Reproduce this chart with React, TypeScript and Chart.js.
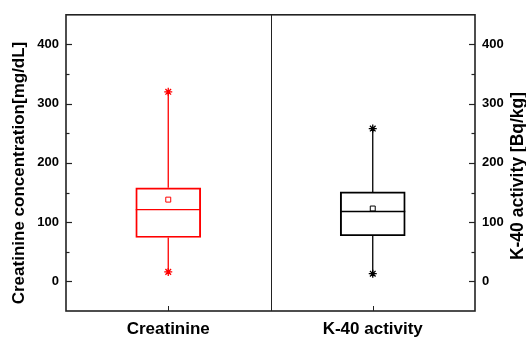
import React, { useEffect, useRef } from "react";
import { Chart, registerables } from "chart.js";

Chart.register(...registerables);

const categories = ["Creatinine", "K-40 activity"];
const positions = [1, 3];
const mins = [16, 13];
const q1s = [74, 77];
const medians = [121, 118];
const q3s = [158, 151];
const maxs = [320, 258];
const means = [138, 123];
const colors = ["#ff0000", "#000000"];
const yMajorTicks = [0, 100, 200, 300, 400];
const leftTitle = "Creatinine concentration[mg/dL]";
const rightTitle = "K-40 activity [Bq/kg]";

const FONT = "'Liberation Sans', Arial, sans-serif";

const boxPlugin = {
  id: "boxExtras",
  beforeDatasetsDraw(chart: any) {
    const ctx = chart.ctx;
    const x = chart.scales.x;
    const y = chart.scales.y;
    ctx.save();
    positions.forEach((p, i) => {
      const px = x.getPixelForValue(p);
      ctx.strokeStyle = colors[i];
      ctx.lineWidth = 1.3;
      ctx.beginPath();
      ctx.moveTo(px, y.getPixelForValue(q3s[i]));
      ctx.lineTo(px, y.getPixelForValue(maxs[i]));
      ctx.moveTo(px, y.getPixelForValue(q1s[i]));
      ctx.lineTo(px, y.getPixelForValue(mins[i]));
      ctx.stroke();
    });
    ctx.restore();
  },
  afterDatasetsDraw(chart: any) {
    const ctx = chart.ctx;
    const y = chart.scales.y;
    const meta = chart.getDatasetMeta(0);
    ctx.save();
    meta.data.forEach((bar: any, i: number) => {
      const py = y.getPixelForValue(medians[i]);
      ctx.strokeStyle = colors[i];
      ctx.lineWidth = 1.3;
      ctx.beginPath();
      ctx.moveTo(bar.x - bar.width / 2, py);
      ctx.lineTo(bar.x + bar.width / 2, py);
      ctx.stroke();
    });
    ctx.restore();
  },
  afterDraw(chart: any) {
    const ctx = chart.ctx;
    const a = chart.chartArea;
    const x = chart.scales.x;
    const y = chart.scales.y;
    const y2 = chart.scales.y2;
    ctx.save();
    ctx.strokeStyle = "#222";
    ctx.lineWidth = 1.6;
    ctx.strokeRect(a.left, a.top, a.right - a.left, a.bottom - a.top);
    ctx.lineWidth = 1;
    ctx.beginPath();
    const dx = Math.round(x.getPixelForValue(2)) + 0.5;
    ctx.moveTo(dx, a.top);
    ctx.lineTo(dx, a.bottom);
    ctx.stroke();
    positions.forEach((p) => {
      const px = Math.round(x.getPixelForValue(p)) + 0.5;
      ctx.beginPath();
      ctx.moveTo(px, a.bottom);
      ctx.lineTo(px, a.bottom - 5);
      ctx.stroke();
    });
    ctx.lineWidth = 1.2;
    [y, y2].forEach((s: any, k: number) => {
      s.ticks.forEach((t: any) => {
        if (t.value <= s.min || t.value >= s.max) return;
        const major = yMajorTicks.includes(t.value);
        const len = major ? 6 : 3.5;
        const py = Math.round(s.getPixelForValue(t.value)) + 0.5;
        ctx.beginPath();
        if (k === 0) {
          ctx.moveTo(a.left, py);
          ctx.lineTo(a.left + len, py);
        } else {
          ctx.moveTo(a.right, py);
          ctx.lineTo(a.right - len, py);
        }
        ctx.stroke();
      });
    });
    ctx.fillStyle = "#000";
    ctx.font = `bold 17px ${FONT}`;
    ctx.textAlign = "center";
    ctx.textBaseline = "middle";
    ctx.save();
    ctx.translate(19, 173);
    ctx.rotate(-Math.PI / 2);
    ctx.fillText(leftTitle, 0, 0);
    ctx.restore();
    ctx.save();
    ctx.font = `bold 17.5px ${FONT}`;
    ctx.translate(518, 176);
    ctx.rotate(-Math.PI / 2);
    ctx.fillText(rightTitle, 0, 0);
    ctx.restore();
    ctx.restore();
  },
};

export default function App() {
  const ref = useRef<HTMLCanvasElement>(null);
  useEffect(() => {
    if (!ref.current) return;
    const yTickCb = (v: any) => (yMajorTicks.includes(v) ? String(v) : "");
    const chart = new Chart(ref.current, {
      type: "bar",
      data: {
        datasets: [
          {
            type: "bar",
            data: positions.map((p, i) => ({ x: p, y: [q1s[i], q3s[i]] })) as any,
            backgroundColor: "rgba(0,0,0,0)",
            borderColor: colors,
            borderWidth: 1.3,
            borderSkipped: false,
            barThickness: 65,
            yAxisID: "y",
          } as any,
          {
            type: "line",
            data: positions.flatMap((p, i) => [
              { x: p, y: mins[i] },
              { x: p, y: maxs[i] },
            ]),
            showLine: false,
            pointStyle: "star",
            pointRadius: 4,
            pointBorderWidth: 1.3,
            pointBorderColor: positions.flatMap((_, i) => [colors[i], colors[i]]),
            pointBackgroundColor: positions.flatMap((_, i) => [colors[i], colors[i]]),
            yAxisID: "y",
          } as any,
          {
            type: "line",
            data: positions.map((p, i) => ({ x: p, y: means[i] })),
            showLine: false,
            pointStyle: "rect",
            pointRadius: 3.5,
            pointBorderWidth: 1,
            pointBorderColor: colors,
            pointBackgroundColor: "#ffffff",
            yAxisID: "y",
          } as any,
        ],
      },
      options: {
        animation: false,
        responsive: true,
        maintainAspectRatio: false,
        events: [],
        layout: { padding: { top: 11, left: 0, right: 0, bottom: 0 } },
        plugins: { legend: { display: false }, tooltip: { enabled: false } },
        scales: {
          x: {
            type: "linear",
            offset: false,
            min: 0,
            max: 4,
            grid: { display: false, drawTicks: false, offset: false },
            border: { display: false },
            afterBuildTicks: (s: any) => {
              s.ticks = positions.map((p) => ({ value: p }));
            },
            afterFit: (s: any) => {
              s.height = 27;
            },
            ticks: {
              padding: 8,
              maxRotation: 0,
              color: "#000",
              font: { family: FONT, size: 17, weight: "bold" },
              callback: (v: any) => categories[positions.indexOf(v)] ?? "",
            },
          },
          y: {
            type: "linear",
            position: "left",
            min: -50,
            max: 450,
            grid: { display: false, drawTicks: false },
            border: { display: false },
            afterFit: (s: any) => {
              s.width = 66;
            },
            ticks: {
              stepSize: 50,
              padding: 7,
              autoSkip: false,
              color: "#000",
              font: { family: FONT, size: 13, weight: "bold" },
              callback: yTickCb,
            },
          },
          y2: {
            type: "linear",
            position: "right",
            min: -50,
            max: 450,
            grid: { display: false, drawTicks: false },
            border: { display: false },
            afterFit: (s: any) => {
              s.width = 51;
            },
            ticks: {
              stepSize: 50,
              padding: 7,
              autoSkip: false,
              color: "#000",
              font: { family: FONT, size: 13, weight: "bold" },
              callback: yTickCb,
            },
          },
        },
      } as any,
      plugins: [boxPlugin],
    });
    return () => chart.destroy();
  }, []);
  return (
    <div style={{ position: "absolute", left: 0, top: 0, width: 526, height: 338, background: "#fff" }}>
      <canvas ref={ref} />
    </div>
  );
}
